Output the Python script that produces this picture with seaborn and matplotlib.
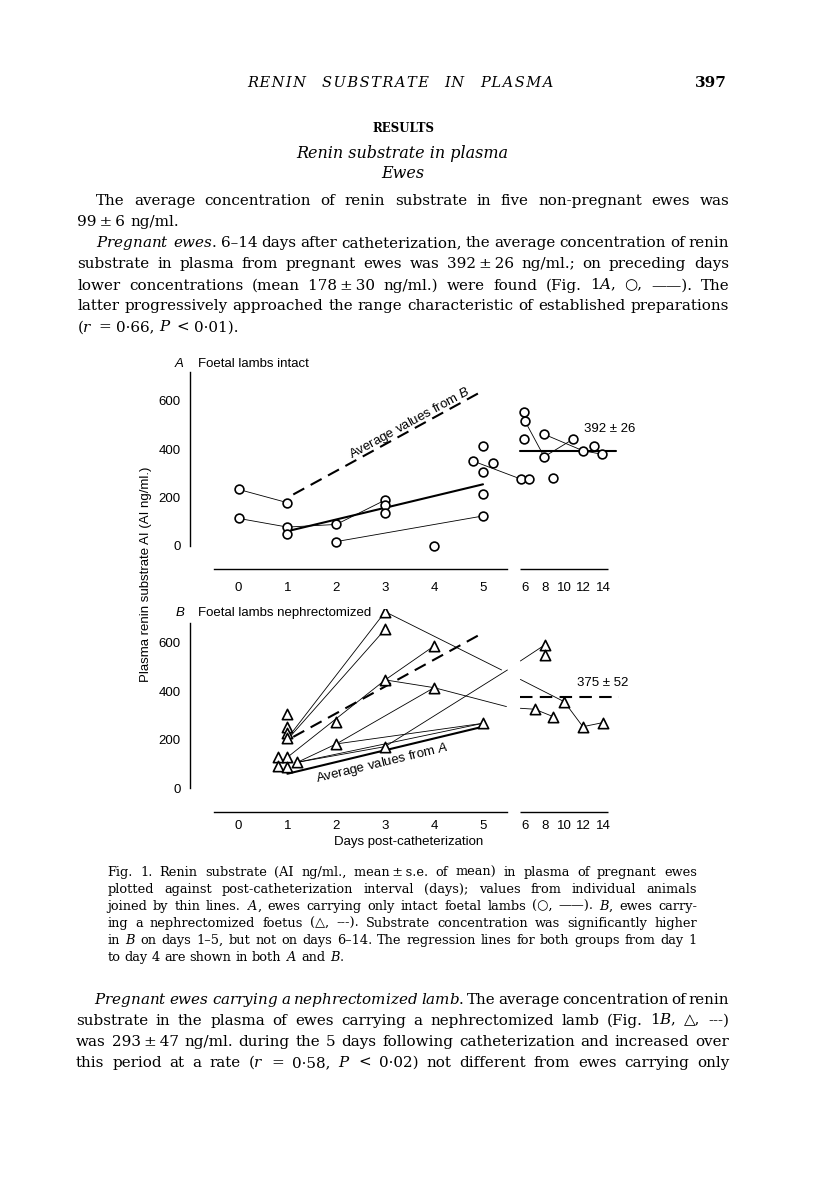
import numpy as np
import pandas as pd
import matplotlib
matplotlib.use("Agg")
import matplotlib.pyplot as plt
from matplotlib.transforms import IdentityTransform
import seaborn as sns

W, H, DPI = 816, 1183, 100

# ---------------- data ----------------
# A: ewes with intact foetal lambs, single samples (day, AI ng/ml.)
a_day = [0, 0, 1, 1, 1, 2, 2, 3, 3, 3, 4, 4.8, 5, 5.2, 5, 5, 5,
         5.9, 6.0, 5.9, 5.55, 6.45, 7.95, 7.95, 8.9, 10.9, 11.9, 13.0, 13.9]
a_val = [233, 113, 178, 77, 50, 88, 17, 189, 167, 137, 0, 350, 412, 341, 305, 214, 123,
         552, 515, 440, 276, 276, 461, 368, 279, 441, 393, 412, 378]
# thin lines joining values of one animal
a_line_id = [0, 0, 1, 1, 2, 2, 2, 3, 3, 4, 4, 5, 5, 5, 6, 6, 6]
a_line_day = [0, 1, 0, 1, 1, 2, 3, 2, 5, 4.8, 5.55, 6.0, 7.95, 10.9, 7.95, 11.9, 13.9]
a_line_val = [233, 178, 113, 77, 77, 88, 189, 17, 123, 350, 276, 515, 368, 441, 461, 393, 378]

# B: ewes carrying a nephrectomized foetus
b_day = [3, 3, 4, 3, 4, 2, 1, 1, 1, 1, 2, 3, 5, 0.8, 1, 1.2, 0.8, 1,
         8, 8, 10, 7, 8.9, 11.9, 13.95]
b_val = [728, 656, 587, 447, 415, 275, 306, 254, 229, 206, 183, 172, 268, 130, 128, 107, 93, 87,
         591, 550, 357, 326, 295, 254, 271]
b_line_id = [0, 0, 0, 1, 1, 1, 1, 2, 2, 3, 3, 3, 4, 4, 4, 5, 5, 5,
             6, 6, 6, 7, 7, 8, 8, 8, 9, 9, 10, 10]
b_line_day = [1, 3, 5.38, 5.52, 10, 11.9, 13.95, 1.05, 3, 1, 3, 4, 3, 4, 5.48, 5.52, 7, 8.9,
              1.2, 2, 4, 2, 5, 1.2, 3, 5.5, 5.52, 8, 1.2, 5]
b_line_val = [206, 728, 488, 449, 357, 254, 271, 212, 656, 128, 447, 587, 447, 415, 337, 330, 326, 295,
              107, 183, 415, 183, 268, 107, 172, 488, 525, 591, 107, 268]

# regression lines day 1-4 (shown in both panels)
reg_a_day = [1.0, 5.0]
reg_a_val = [60, 254]
reg_b_day = [1.12, 4.9]
reg_b_val = [212, 630]

# means for days 6-14
mean_a_day = [5.52, 15.3]
mean_a = 392
mean_a_label = "392 ± 26"
mean_b_day = [5.52, 15.6]
mean_b = 375
mean_b_label = "375 ± 52"

day_ticks = [0, 1, 2, 3, 4, 5, 6, 8, 10, 12, 14]
day_bounds_1 = [-0.5, 0.5, 1.5, 2.5, 3.5, 4.5, 5.5]
day_bounds_2 = [5.5001, 6.5, 7.5, 8.5, 9.5, 10.5, 11.5, 12.5, 13.5, 14.5]
val_ticks = [0, 200, 400, 600]

# ---------------- style ----------------
sns.set_theme(style="white", rc={"axes.edgecolor": "black", "xtick.color": "black",
                                 "ytick.color": "black", "text.color": "black"})
plt.rcParams["font.family"] = ["Liberation Sans", "DejaVu Sans"]
plt.rcParams["mathtext.fontset"] = "custom"
plt.rcParams["mathtext.rm"] = "DejaVu Serif"
plt.rcParams["mathtext.it"] = "DejaVu Serif:italic"
plt.rcParams["mathtext.bf"] = "Liberation Sans:italic"
SERIF = ["DejaVu Serif", "DejaVu Sans"]
FS = 9.5

# broken day axis: days 6-14 squeezed to one fifth
GAP, K = 0.26, 0.2004


def fwd(d):
    d = np.asarray(d, float)
    return np.where(d <= 5.5, d, 5.5 + GAP + (d - 5.5) * K)


def inv(x):
    x = np.asarray(x, float)
    return np.where(x <= 5.5, x, np.where(x < 5.5 + GAP, 5.5, 5.5 + (x - 5.5 - GAP) / K))


fig = plt.figure(figsize=(W / DPI, H / DPI), dpi=DPI)


def ftext(x, y, s, **kw):
    return fig.text(x / W, 1 - y / H, s, **kw)


def make_panel(y_zero, ppu, y_top, spine_y, pad):
    xlo, xhi = -1.0, 18.2
    ylo, yhi = -110, 740
    left = 238.5 + 48.9 * xlo
    width = 48.9 * (float(fwd(xhi)) - xlo)
    top = y_zero - yhi * ppu
    height = (yhi - ylo) * ppu
    ax = fig.add_axes([left / W, 1 - (top + height) / H, width / W, height / H])
    ax.set_facecolor("none")
    return ax, (xlo, xhi, ylo, yhi, y_top, spine_y, pad)


def finish_panel(ax, lims):
    xlo, xhi, ylo, yhi, y_top, spine_y, pad = lims
    ax.set_xscale("function", functions=(fwd, inv))
    ax.set_xlim(xlo, xhi)
    ax.set_ylim(ylo, yhi)
    ax.spines[["top", "right"]].set_visible(False)
    ax.spines["left"].set_bounds(0, y_top)
    ax.spines["bottom"].set_position(("data", spine_y))
    ax.spines["bottom"].set_bounds(day_bounds_1[0], day_bounds_1[-1])
    for s in ("left", "bottom"):
        ax.spines[s].set_linewidth(1.0)
    ax.plot([day_bounds_2[0], day_bounds_2[-1]], [spine_y, spine_y], color="black",
            lw=1.0, clip_on=False, solid_capstyle="butt")
    ax.set_xticks(day_ticks)
    ax.set_xticklabels([str(d) for d in day_ticks])
    ax.set_xticks(day_bounds_1 + day_bounds_2, minor=True)
    ax.tick_params(axis="x", which="major", length=0, pad=pad, labelsize=FS)
    ax.tick_params(axis="x", which="minor", direction="in", length=4.8, width=1.0)
    ax.set_yticks(val_ticks)
    ax.tick_params(axis="y", which="major", direction="in", length=5.3, width=1.0,
                   pad=6.5, labelsize=FS)
    ax.set_xlabel("")
    ax.set_ylabel("")


def line_angle(ax, xs, ys):
    p = ax.transData.transform(np.column_stack([xs, ys]))
    return np.degrees(np.arctan2(p[1, 1] - p[0, 1], p[1, 0] - p[0, 0]))


thin = dict(color="black", linewidth=0.6, estimator=None, sort=False, legend=False)
dash = (0, (6, 3.5))

# ---------------- panel A ----------------
axA, limA = make_panel(545.7, 0.2417, 720, -95, 9.5)
dfA = pd.DataFrame({"id": a_line_id, "day": a_line_day, "val": a_line_val})
sns.lineplot(data=dfA, x="day", y="val", units="id", ax=axA, **thin)
sns.lineplot(x=reg_a_day, y=reg_a_val, ax=axA, color="black", linewidth=1.5)
sns.lineplot(x=reg_b_day, y=reg_b_val, ax=axA, color="black", linewidth=1.5, linestyle=dash)
sns.lineplot(x=mean_a_day, y=[mean_a, mean_a], ax=axA, color="black", linewidth=1.5)
sns.scatterplot(x=a_day, y=a_val, ax=axA, marker="o", s=40, color="white",
                edgecolor="black", linewidth=1.2, zorder=4, legend=False)
finish_panel(axA, limA)
axA.text(12.0, 482, mean_a_label, fontsize=FS, ha="left", va="center")
ang = line_angle(axA, reg_b_day, reg_b_val)
axA.text(3.51, 507, "Average values from $\\mathbf{B}$", fontsize=FS, rotation=ang,
         rotation_mode="anchor", ha="center", va="center")

# ---------------- panel B ----------------
axB, limB = make_panel(788.3, 0.2425, 680, -99, 5.5)
dfB = pd.DataFrame({"id": b_line_id, "day": b_line_day, "val": b_line_val})
sns.lineplot(data=dfB, x="day", y="val", units="id", ax=axB, **thin)
sns.lineplot(x=reg_a_day, y=reg_a_val, ax=axB, color="black", linewidth=1.5)
sns.lineplot(x=reg_b_day, y=reg_b_val, ax=axB, color="black", linewidth=1.5, linestyle=dash)
sns.lineplot(x=mean_b_day, y=[mean_b, mean_b], ax=axB, color="black", linewidth=1.5,
             linestyle=dash)
sns.scatterplot(x=b_day, y=b_val, ax=axB, marker="^", s=55, color="white",
                edgecolor="black", linewidth=1.2, zorder=4, legend=False)
finish_panel(axB, limB)
axB.text(11.3, 433, mean_b_label, fontsize=FS, ha="left", va="center")
ang = line_angle(axB, reg_a_day, reg_a_val)
axB.text(2.93, 103, "Average values from $\\mathbf{A}$", fontsize=FS, rotation=ang,
         rotation_mode="anchor", ha="center", va="center")

# panel titles and axis labels
ftext(179.3, 364, "A", fontsize=FS, style="italic", ha="center", va="center")
ftext(198.3, 364, "Foetal lambs intact", fontsize=FS, ha="left", va="center")
ftext(180, 613.3, "B", fontsize=FS, style="italic", ha="center", va="center")
ftext(198.3, 613.3, "Foetal lambs nephrectomized", fontsize=FS, ha="left", va="center")
ftext(146, 574, "Plasma renin substrate AI (AI ng/ml.)", fontsize=FS, rotation=90,
      ha="center", va="center")
ftext(409, 842.3, "Days post-catheterization", fontsize=FS, ha="center", va="center")

# ---------------- page text ----------------
rend = fig.canvas.get_renderer()


def words_line(text, x0, x1, yc, size, justify=True, **kw):
    # place each word so the line runs flush from x0 to x1
    words = text.split(" ")
    while True:
        arts = [fig.text(0, 0, w, fontsize=size, family=SERIF, va="baseline",
                         transform=IdentityTransform(), **kw) for w in words]
        widths = [a.get_window_extent(rend).width for a in arts]
        space = 0.318 * size * DPI / 72
        if not justify or len(words) < 2:
            break
        space = (x1 - x0 - sum(widths)) / (len(words) - 1)
        if space >= 0.13 * size * DPI / 72 or size < 7:
            break
        for a in arts:
            a.remove()
        size -= 0.1
    yb = H - (yc + 0.3 * size * DPI / 72)
    x = x0
    for a, w in zip(arts, widths):
        a.set_position((x, yb))
        x += w + space


def it(s):
    return "$\\mathit{" + s + "}$"


TH = "\u2009"
HAIR = "\u200a"
words_line(" ".join(HAIR.join(w) for w in "RENIN SUBSTRATE IN PLASMA".split()),
           247, 554, 82.7, 10.5, style="italic")
ftext(727, 82.7, "397", fontsize=11, family=SERIF, weight="bold", ha="right", va="center")
ftext(403, 128, "RESULTS", fontsize=8.5, family=SERIF, weight="bold", ha="center", va="center")
ftext(402.5, 153.3, "Renin substrate in plasma", fontsize=11.5, family=SERIF, style="italic",
      ha="center", va="center")
ftext(403, 174, "Ewes", fontsize=11.5, family=SERIF, style="italic", ha="center", va="center")

BODY = 10.9
R = 729
body = [
    ("The average concentration of renin substrate in five non-pregnant ewes was", 95.7, 200.7, True),
    ("99" + TH + "±" + TH + "6 ng/ml.", 77.3, 221.7, False),
    (it("Pregnant") + " " + it("ewes") + ". 6–14 days after catheterization, the average concentration of renin",
     95.7, 242.7, True),
    ("substrate in plasma from pregnant ewes was 392" + TH + "±" + TH + "26 ng/ml.; on preceding days",
     77.3, 263.3, True),
    ("lower concentrations (mean 178" + TH + "±" + TH + "30 ng/ml.) were found (Fig. 1" + it("A")
     + ", ○, ——). The", 77.3, 285, True),
    ("latter progressively approached the range characteristic of established preparations", 77.3, 305.7, True),
    ("(" + it("r") + " = 0·66, " + it("P") + " < 0·01).", 77.3, 326.7, False),
]
for t, x0, yc, j in body:
    words_line(t, x0, R, yc, BODY, j)

CAP = 9.3
caption = [
    ("Fig. 1. Renin substrate (AI ng/ml., mean" + TH + "±" + TH + "s.e. of mean) in plasma of pregnant ewes",
     872, True),
    ("plotted against post-catheterization interval (days); values from individual animals", 889, True),
    ("joined by thin lines. " + it("A") + ", ewes carrying only intact foetal lambs (○, ——). "
     + it("B") + ", ewes carry-", 905.7, True),
    ("ing a nephrectomized foetus (△, ---). Substrate concentration was significantly higher", 922.7, True),
    ("in " + it("B") + " on days 1–5, but not on days 6–14. The regression lines for both groups from day 1",
     940, True),
    ("to day 4 are shown in both " + it("A") + " and " + it("B") + ".", 956.7, False),
]
for t, yc, j in caption:
    words_line(t, 107.3, 697, yc, CAP, j)

bottom = [
    (" ".join(it(w) for w in "Pregnant ewes carrying a nephrectomized lamb".split())
     + ". The average concentration of renin", 94, 999),
    ("substrate in the plasma of ewes carrying a nephrectomized lamb (Fig. 1" + it("B") + ", △, ---)", 76, 1020),
    ("was 293" + TH + "±" + TH + "47 ng/ml. during the 5 days following catheterization and increased over",
     76, 1041.7),
    ("this period at a rate (" + it("r") + " = 0·58, " + it("P") + " < 0·02) not different from ewes carrying only",
     76, 1062.3),
]
for t, x0, yc in bottom:
    words_line(t, x0, R, yc, BODY, True)

fig.savefig("out.png", dpi=DPI, facecolor="white")
